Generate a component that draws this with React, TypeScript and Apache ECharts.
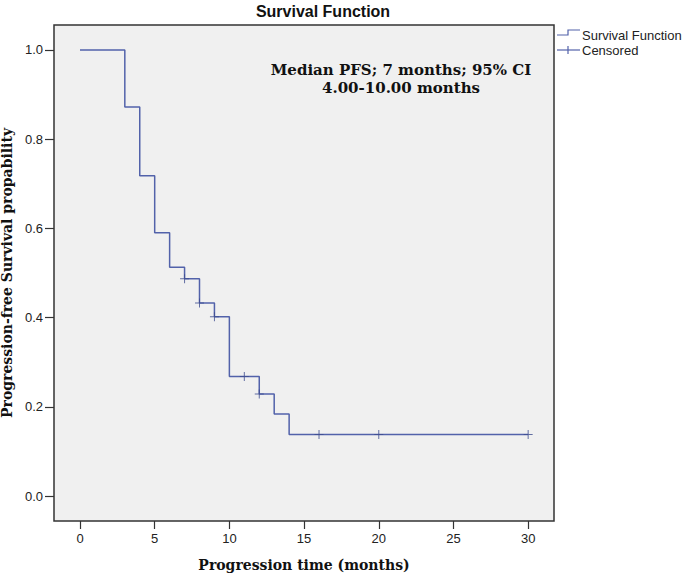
import React, { useEffect, useRef } from "react";
import * as echarts from "echarts";

// Kaplan-Meier step curve (time in months, survival probability)
const eventTimes = [0, 3, 4, 5, 6, 7, 8, 9, 10, 12, 13, 14, 30];
const survival = [1.0, 0.872, 0.718, 0.59, 0.513, 0.487, 0.433, 0.402, 0.268, 0.229, 0.184, 0.138, 0.138];
// Censored observations
const censoredTimes = [7, 8, 9, 11, 12, 16, 20, 30];
const censoredSurvival = [0.487, 0.433, 0.402, 0.268, 0.229, 0.138, 0.138, 0.138];
// Tick labels
const xTicks = [0, 5, 10, 15, 20, 25, 30];
const yTicks = [0, 0.2, 0.4, 0.6, 0.8, 1.0];

const LINE = "#5262aa";
const SANS = "'Liberation Sans', Arial, sans-serif";
const SERIF = "'DejaVu Serif', serif";
const PLUS = "path://M4,0H5V4H9V5H5V9H4V5H0V4H4Z";

export default function App() {
  const ref = useRef<HTMLDivElement>(null);
  useEffect(() => {
    if (!ref.current) return;
    const chart = echarts.init(ref.current, null, { renderer: "svg" });
    const lineData = eventTimes.map((t, i) => [t, survival[i]]);
    const censData = censoredTimes.map((t, i) => [t, censoredSurvival[i]]);
    chart.setOption({
      animation: false,
      backgroundColor: "#ffffff",
      grid: {
        left: 54,
        right: 131,
        top: 25,
        bottom: 56,
        containLabel: false,
        outerBoundsMode: "none",
        show: true,
        backgroundColor: "#f0f0f0",
        borderColor: "#333333",
        borderWidth: 1.5,
      },
      xAxis: {
        type: "value",
        min: -1.74,
        max: 31.73,
        name: "Progression time (months)",
        nameLocation: "middle",
        nameGap: 37,
        nameTextStyle: { fontFamily: SERIF, fontWeight: "bold", fontSize: 14, color: "#111" },
        axisLine: { show: false, onZero: false },
        splitLine: { show: false },
        axisTick: { show: true, length: 8, customValues: xTicks, lineStyle: { color: "#333", width: 1.2 } },
        axisLabel: {
          customValues: xTicks,
          margin: 11,
          fontFamily: SANS,
          fontSize: 13,
          color: "#222",
          formatter: (v: number) => String(v),
        },
      },
      yAxis: {
        type: "value",
        min: -0.056,
        max: 1.056,
        name: "Progression-free Survival propability",
        nameLocation: "middle",
        nameGap: 36,
        nameTextStyle: { fontFamily: SERIF, fontWeight: "bold", fontSize: 14, color: "#111" },
        axisLine: { show: false, onZero: false },
        splitLine: { show: false },
        axisTick: { show: true, length: 9, customValues: yTicks, lineStyle: { color: "#333", width: 1.2 } },
        axisLabel: {
          customValues: yTicks,
          margin: 11,
          fontFamily: SANS,
          fontSize: 13,
          color: "#222",
          formatter: (v: number) => v.toFixed(1),
        },
      },
      series: [
        {
          name: "Survival Function",
          type: "line",
          step: "end",
          data: lineData,
          symbol: "none",
          lineStyle: { color: LINE, width: 1.5 },
          z: 3,
        },
        {
          name: "Censored",
          type: "scatter",
          data: censData,
          symbol: PLUS,
          symbolSize: 9,
          itemStyle: { color: "#3d4c8f" },
          z: 4,
        },
      ],
      graphic: [
        {
          type: "text",
          x: 323,
          y: 11,
          style: {
            text: "Survival Function",
            font: `bold 16px ${SANS}`,
            fill: "#111",
            textAlign: "center",
            textVerticalAlign: "middle",
          },
        },
        {
          type: "text",
          x: 401,
          y: 79,
          style: {
            text: "Median PFS; 7 months; 95% CI\n4.00-10.00 months",
            font: `bold 15px ${SERIF}`,
            fill: "#111",
            textAlign: "center",
            textVerticalAlign: "middle",
            lineHeight: 18,
          },
        },
        {
          type: "polyline",
          shape: { points: [[557, 35], [568, 35], [568, 30], [580, 30]] },
          style: { stroke: LINE, lineWidth: 1.2, fill: "none" },
        },
        {
          type: "text",
          x: 582,
          y: 35,
          style: { text: "Survival Function", font: `13px ${SANS}`, fill: "#222", textVerticalAlign: "middle" },
        },
        {
          type: "line",
          shape: { x1: 557, y1: 50, x2: 580, y2: 50 },
          style: { stroke: LINE, lineWidth: 1.2 },
        },
        {
          type: "line",
          shape: { x1: 568, y1: 46, x2: 568, y2: 54 },
          style: { stroke: LINE, lineWidth: 1.2 },
        },
        {
          type: "text",
          x: 582,
          y: 50,
          style: { text: "Censored", font: `13px ${SANS}`, fill: "#222", textVerticalAlign: "middle" },
        },
      ],
    });
    return () => chart.dispose();
  }, []);
  return (
    <div
      ref={ref}
      style={{ position: "fixed", left: 0, top: 0, width: 685, height: 577, background: "#fff" }}
    />
  );
}
